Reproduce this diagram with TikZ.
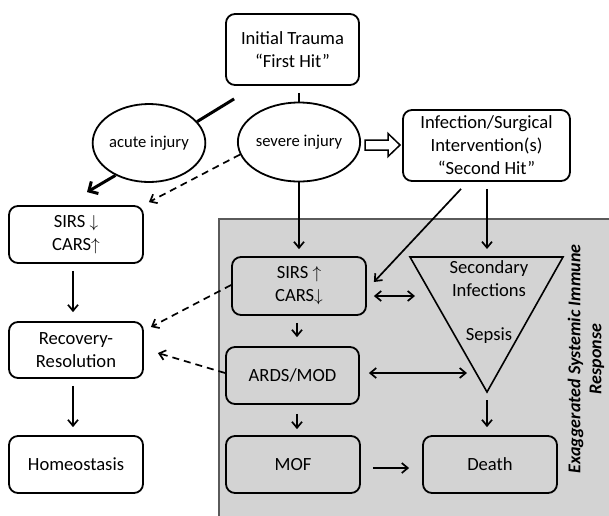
\documentclass[tikz,border=0pt]{standalone}
\usepackage{fontspec}
\setmainfont{Carlito}
\usetikzlibrary{arrows.meta,calc,shapes.geometric}
\definecolor{panelgray}{HTML}{D3D3D3}
\definecolor{paneledge}{HTML}{5A5A5A}
\newcommand{\mainfs}{\fontsize{18.6}{23}\selectfont}
\newcommand{\ellfs}{\fontsize{16.6}{20}\selectfont}
\newcommand{\dn}{$\downarrow$}
\newcommand{\upa}{$\uparrow$}
\begin{document}
\begin{tikzpicture}[x=1pt,y=-1pt,
  box/.style={draw,line width=1.8pt,rounded corners=9pt,align=center,inner sep=0pt,font=\mainfs},
  oval/.style={draw,ellipse,line width=1.8pt,inner sep=0pt,font=\ellfs},
  lbl/.style={align=center,inner sep=0pt,font=\mainfs},
  arr/.style={line width=1.7pt,-{Straight Barb[length=6pt,width=10pt,line width=1.7pt]}},
  darr/.style={line width=1.7pt,{Straight Barb[length=6pt,width=10pt,line width=1.7pt]}-{Straight Barb[length=6pt,width=10pt,line width=1.7pt]}},
  dasharr/.style={line width=1.7pt,dash pattern=on 7pt off 5pt,-{Straight Barb[length=6pt,width=10pt,line width=1.7pt]}},
  thickarr/.style={line width=3pt,-{Straight Barb[length=7pt,width=14pt,line width=3pt]}},
  thickline/.style={line width=3pt}]
\useasboundingbox (0,0) rectangle (609,515);
% grey panel
\fill[panelgray] (219,219) rectangle (615,520);
\draw[line width=1.3pt,paneledge] (219,520) -- (219,219) -- (615,219);

% nodes
\node[box,minimum width=133pt,minimum height=71pt] (trauma) at (292.5,49.5) {Initial Trauma\\“First Hit”};
\node[oval,minimum width=100pt,minimum height=78pt] (acute) at (149,143) {acute injury};
\node[oval,minimum width=110pt,minimum height=79pt] (severe) at (299,142) {severe injury};
\node[box,minimum width=167pt,minimum height=71pt] (infect) at (486.5,145.5) {Infection/Surgical\\Intervention(s)\\“Second Hit”};
\node[box,minimum width=134pt,minimum height=57pt] (sirsL) at (76,234.5) {SIRS \dn\\CARS\upa};
\node[box,minimum width=134pt,minimum height=56pt] (recov) at (76,350) {Recovery-\\Resolution};
\node[box,minimum width=134pt,minimum height=57pt] (homeo) at (76,464.5) {Homeostasis};
\node[box,minimum width=134pt,minimum height=58pt] (sirsR) at (299,286) {SIRS \upa\\CARS\dn};
\node[box,minimum width=133pt,minimum height=57pt] (ards) at (292.5,375.5) {ARDS/MOD};
\node[box,minimum width=134pt,minimum height=57pt] (mof) at (293,464.5) {MOF};
\node[box,minimum width=134pt,minimum height=57pt] (death) at (490,464.5) {Death};

% triangle
\coordinate (triTL) at (410,257);
\coordinate (triTR) at (563,257);
\coordinate (triB) at (487,392);
\coordinate (triT) at (487,257);
\draw[line width=1.6pt,line join=miter] (triTL) -- (triTR) -- (triB) -- cycle;
\node[lbl] (secinf) at (489,279) {Secondary\\Infections};
\node[lbl] (sepsis) at (489,336) {Sepsis};

% side label
\node[rotate=90,align=center,inner sep=0pt,font=\bfseries\itshape\fontsize{18}{21}\selectfont] (esir) at (586,359) {Exaggerated Systemic Immune\\Response};

% connectors
\draw[line width=1.7pt,shorten <=7pt] (trauma.south -| severe.north) -- (severe.north);
\draw[thickline] ($(trauma.south west)+(9,13)$) -- (acute.24);
\draw[thickarr] (acute.224) -- ($(sirsL.north)+(11,-13)$);
\draw[dasharr] (severe.192) -- ($(sirsL.north east)+(5,-3)$);
\draw[line width=1.5pt,fill=white,line join=miter]
  ($(severe.east)+(4,3)$) coordinate (ba)
  -- ++(0,-5) -- ++(23,0) -- ++(0,-6.5) -- ++(12,11.5) -- ++(-12,11.5) -- ++(0,-6.5) -- ++(-23,0) -- cycle;
\draw[arr,shorten >=7pt] (severe.south) -- (sirsR.north);
\draw[arr,shorten <=7pt,shorten >=8pt] (infect.south -| triT) -- (triT);
\draw[arr] ($(infect.south)+(-25.5,7)$) -- ($(sirsR.east)+(7,-4)$);
\coordinate (triL1) at (415,296);
\coordinate (triL2) at (467,373);
\draw[darr] ($(sirsR.east)+(7,10)$) -- (triL1);
\draw[darr] ($(ards.east)+(9,-2.5)$) -- (triL2);
\draw[arr,shorten <=7pt,shorten >=9pt] ($(sirsL.south)+(-3,0)$) -- ($(recov.north)+(-3,0)$);
\draw[arr,shorten <=7pt,shorten >=8pt] ($(recov.south)+(-3,0)$) -- ($(homeo.north)+(-3,0)$);
\draw[arr,shorten <=7pt,shorten >=9pt] ($(sirsR.south)+(-2,0)$) -- ($(sirsR.south |- ards.north)+(-2,0)$);
\draw[arr,shorten <=9pt,shorten >=6pt] ($(ards.south)+(4.5,0)$) -- ($(ards.south |- mof.north)+(4.5,0)$);
\draw[arr,shorten <=12pt,shorten >=13pt] ($(mof.east)+(0,3.5)$) -- ($(death.west)+(0,3.5)$);
\draw[arr,shorten <=8pt,shorten >=8pt] (triB) -- (triB |- death.north);
\draw[dasharr] ($(sirsR.west)+(0,-1)$) -- ($(recov.east)+(7,-23)$);
\draw[dasharr] ($(ards.west)+(0,-2.5)$) -- ($(recov.east)+(14,3)$);
\end{tikzpicture}
\end{document}
